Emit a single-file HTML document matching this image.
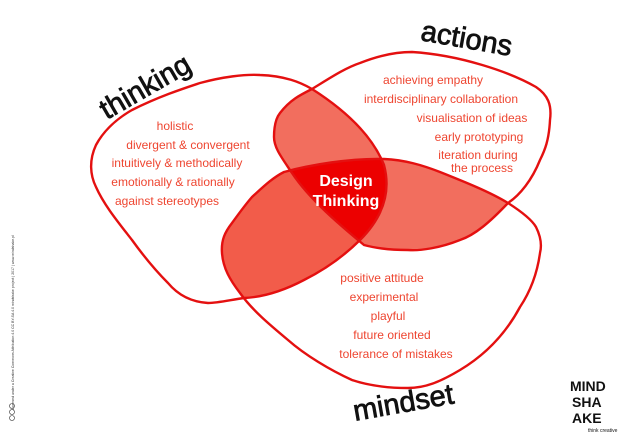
<!DOCTYPE html>
<html><head><meta charset="utf-8"><style>
html,body{margin:0;padding:0;background:#fff;}
body{width:624px;height:439px;overflow:hidden;position:relative;font-family:"Liberation Sans",sans-serif;}
svg{position:absolute;left:0;top:0;}
</style></head><body>
<svg width="624" height="439" viewBox="0 0 624 439" xmlns="http://www.w3.org/2000/svg">
<defs>
<path id="T" d="M260,75 C285,76 300,82 312,89 C345,110 372,135 384,165 C392,195 380,220 360,240 C340,260 320,272 304,280 C285,290 265,297 244,298 C230,300 218,303 208,303 C192,302 178,295 168,283 C155,270 145,258 132,240 C118,222 104,205 96,187 C90,175 89,160 96,145 C104,130 118,118 132,110 C160,96 185,88 200,83 C222,77 245,74 260,75 Z"/>
<path id="A" d="M412,52 C460,55 510,72 536,87 C548,95 552,105 550,120 C549,140 545,150 540,160 C532,180 520,195 508,203 C490,222 475,235 460,240 C440,248 420,251 408,250 C390,250 375,248 364,245 C340,225 310,200 292,173 C282,158 274,148 274,137 C274,125 276,118 280,113 C290,100 300,95 312,89 C330,78 345,68 360,63 C380,55 396,52 412,52 Z"/>
<path id="M" d="M284,172 C310,165 350,158 384,159 C405,160 422,165 440,172 C465,182 490,192 508,203 C522,212 532,220 536,227 C541,237 542,245 540,253 C537,275 530,292 520,307 C505,335 485,355 460,370 C440,382 425,388 408,388 C390,388 370,386 352,380 C330,370 305,355 288,340 C270,325 252,310 240,293 C230,280 223,268 222,253 C221,240 225,232 232,223 C240,212 245,205 252,197 C262,188 272,178 284,172 Z"/>
<clipPath id="cT"><use href="#T"/></clipPath>
<clipPath id="cA"><use href="#A"/></clipPath>
<clipPath id="cM"><use href="#M"/></clipPath>
</defs>
<g clip-path="url(#cT)"><use href="#A" fill="#f26e5e"/><use href="#M" fill="#f25c4a"/></g>
<g clip-path="url(#cA)"><use href="#M" fill="#f26e5e"/></g>
<g clip-path="url(#cT)"><g clip-path="url(#cA)"><use href="#M" fill="#ec0000"/></g></g>
<g fill="none" stroke="#e41010" stroke-width="2.4"><use href="#T"/><use href="#A"/><use href="#M"/></g>
<g font-size="12" fill="#ee4530" text-anchor="middle">
<text x="175" y="130">holistic</text>
<text x="188" y="149">divergent &amp; convergent</text>
<text x="177" y="167">intuitively &amp; methodically</text>
<text x="173" y="186">emotionally &amp; rationally</text>
<text x="167" y="205">against stereotypes</text>
<text x="433" y="84">achieving empathy</text>
<text x="441" y="103">interdisciplinary collaboration</text>
<text x="472" y="122">visualisation of ideas</text>
<text x="479" y="141">early prototyping</text>
<text x="478" y="159">iteration during</text>
<text x="482" y="172">the process</text>
<text x="382" y="282">positive attitude</text>
<text x="384" y="301">experimental</text>
<text x="388" y="320">playful</text>
<text x="392" y="339">future oriented</text>
<text x="396" y="358">tolerance of mistakes</text>
</g>
<g font-size="16" font-weight="bold" fill="#fff" text-anchor="middle">
<text x="346" y="186">Design</text>
<text x="346" y="206">Thinking</text>
</g>
<g font-size="29" fill="#111" stroke="#111" stroke-width="0.8" text-anchor="middle">
<text transform="translate(150,95) rotate(-30)">thinking</text>
<text transform="translate(465,48) rotate(10)">actions</text>
<text transform="translate(405,412) rotate(-10)">mindset</text>
</g>
<g font-size="14" font-weight="bold" fill="#111">
<text x="570" y="391">MIND</text>
<text x="572" y="407">SHA</text>
<text x="572" y="423">AKE</text>
<text x="588" y="432" font-size="5" font-weight="normal">think creative</text>
</g>
<text transform="translate(14,410) rotate(-90)" font-size="3.5" fill="#333">Licensed under a Creative Commons Attribution 4.0 CC BY-SA 4.0 mindshake project | 2017 | www.mindshake.pl</text>
<circle cx="12" cy="418" r="2.5" fill="none" stroke="#333" stroke-width="0.6"/>
<circle cx="12" cy="412" r="2.5" fill="none" stroke="#333" stroke-width="0.6"/>
<circle cx="12" cy="406" r="2.5" fill="none" stroke="#333" stroke-width="0.6"/>
</svg>
</body></html>
